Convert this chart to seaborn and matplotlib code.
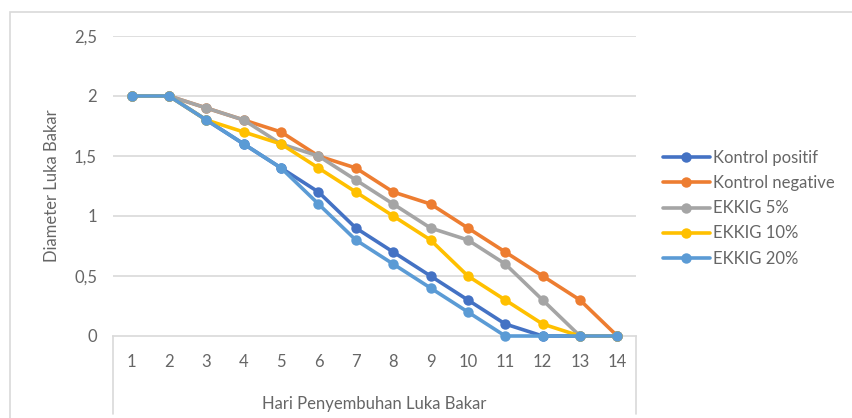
import matplotlib
matplotlib.use("Agg")
import matplotlib.pyplot as plt
import matplotlib.ticker as mticker
from matplotlib.patches import Rectangle
from matplotlib.lines import Line2D
import seaborn as sns
import pandas as pd

# Healing day (category axis)
hari = list(range(1, 15))

# Burn-wound diameter per group
kontrol_positif = [2, 2, 1.8, 1.6, 1.4, 1.2, 0.9, 0.7, 0.5, 0.3, 0.1, 0, 0, 0]
kontrol_negative = [2, 2, 1.9, 1.8, 1.7, 1.5, 1.4, 1.2, 1.1, 0.9, 0.7, 0.5, 0.3, 0]
ekkig_5 = [2, 2, 1.9, 1.8, 1.6, 1.5, 1.3, 1.1, 0.9, 0.8, 0.6, 0.3, 0, 0]
ekkig_10 = [2, 2, 1.8, 1.7, 1.6, 1.4, 1.2, 1.0, 0.8, 0.5, 0.3, 0.1, 0, 0]
ekkig_20 = [2, 2, 1.8, 1.6, 1.4, 1.1, 0.8, 0.6, 0.4, 0.2, 0, 0, 0, 0]

kelompok = ["Kontrol positif", "Kontrol negative", "EKKIG 5%", "EKKIG 10%", "EKKIG 20%"]
nilai = [kontrol_positif, kontrol_negative, ekkig_5, ekkig_10, ekkig_20]
warna = ["#4472C4", "#ED7D31", "#A5A5A5", "#FFC000", "#5B9BD5"]

y_ticks = [0, 0.5, 1, 1.5, 2, 2.5]

df = pd.DataFrame(
    [(h, v, k) for k, vals in zip(kelompok, nilai) for h, v in zip(hari, vals)],
    columns=["Hari", "Diameter", "Kelompok"],
)

sns.set_theme(style="white")
plt.rcParams["font.family"] = ["Lato", "DejaVu Sans"]
text_color = "#666666"
grid_color = "#D9D9D9"
fs = 12

fig = plt.figure(figsize=(8.53, 4.18), dpi=100)
W, H = 853, 418

# light chart-area frame
fig.patches.append(Rectangle((10 / W, -0.05), 1.2, (418 - 12) / H + 0.05,
                             transform=fig.transFigure, fill=False,
                             edgecolor="#D9D9D9", linewidth=1.2))

ax = fig.add_axes([113 / W, (418 - 336) / H, (636 - 113) / W, (336 - 36) / H])

sns.lineplot(data=df, x="Hari", y="Diameter", hue="Kelompok", hue_order=kelompok,
             palette=warna, marker="o", markersize=7.5, markeredgewidth=0,
             linewidth=2.6, ax=ax, legend=False, clip_on=False)

ax.set_xlim(0.5, 14.5)
ax.set_ylim(0, 2.5)
ax.set_xticks(hari)
ax.set_yticks(y_ticks)
ax.yaxis.set_major_formatter(mticker.FuncFormatter(
    lambda v, p: ("%g" % v).replace(".", ",")))
ax.tick_params(axis="both", length=0, labelsize=fs, labelcolor=text_color)
ax.tick_params(axis="x", pad=13)
ax.tick_params(axis="y", pad=11.5)

for sp in ["top", "right", "left"]:
    ax.spines[sp].set_visible(False)
ax.spines["bottom"].set_color(grid_color)
ax.spines["bottom"].set_linewidth(1.2)
ax.spines["bottom"].set_zorder(0.5)

for yv in y_ticks[1:]:
    ax.axhline(yv, color=grid_color, linewidth=1.2, zorder=0)

# side borders of the category axis band
for xa in (0, 1):
    ax.add_line(Line2D([xa, xa], [0, -0.26], transform=ax.transAxes,
                       color=grid_color, linewidth=1.2, clip_on=False))

ax.set_xlabel("Hari Penyembuhan Luka Bakar", fontsize=fs, color=text_color, labelpad=19)
ax.set_ylabel("Diameter Luka Bakar", fontsize=fs, color=text_color, labelpad=10)

handles = [Line2D([], [], color=c, linewidth=2.6, marker="o", markersize=7.5,
                  markeredgewidth=0) for c in warna]
fig.legend(handles, kelompok, loc="upper left", bbox_to_anchor=(663 / W, 1 - 150 / H),
           frameon=False, fontsize=fs, labelcolor=text_color, handlelength=2.8,
           handletextpad=0.2, labelspacing=0.55, borderpad=0, borderaxespad=0)

fig.savefig("out.png", dpi=100, facecolor="white")
